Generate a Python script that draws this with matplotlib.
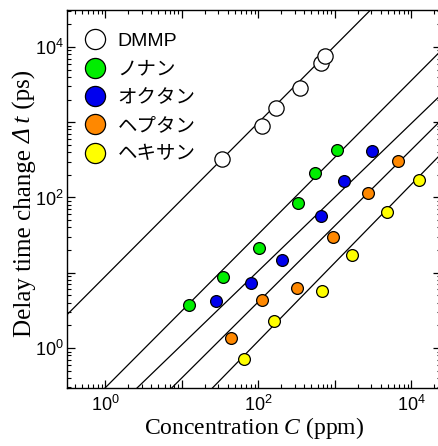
import numpy as np
import matplotlib
matplotlib.use("Agg")
import matplotlib.pyplot as plt
from matplotlib.ticker import LogLocator, FuncFormatter, NullFormatter

plt.rcParams['mathtext.fontset'] = 'custom'
plt.rcParams['mathtext.rm'] = 'Liberation Serif'
plt.rcParams['mathtext.it'] = 'Liberation Serif:italic'
plt.rcParams['mathtext.default'] = 'regular'

# ---- data ----
series_names = ["DMMP", "ノナン", "オクタン", "ヘプタン", "ヘキサン"]
series_colors = ["white", "#00ee00", "#0000ee", "#ff8800", "#ffff00"]

dmmp_c = [33.5, 112, 174, 355, 660, 740]
dmmp_dt = [321, 887, 1550, 2880, 6170, 7590]

nonane_c = [12.5, 35.2, 104, 330, 556, 1070]
nonane_dt = [3.72, 8.85, 21.5, 83.6, 211, 422]

octane_c = [28.2, 80.9, 208, 667, 1318, 3119]
octane_dt = [4.21, 7.36, 14.8, 57.1, 167, 413]

heptane_c = [44.0, 112, 327, 966, 2767, 6823]
heptane_dt = [1.36, 4.34, 6.27, 30.1, 116, 301]

hexane_c = [66.2, 162, 687, 1694, 4853, 12735]
hexane_dt = [0.72, 2.31, 5.71, 17.2, 64.6, 170]

# fit lines: log10(dt) = a + b*log10(C)
fit_a = [0.95, -0.53, -0.94, -1.41, -1.99]
fit_b = [1.02, 1.02, 0.98, 1.01, 1.04]

all_c = [dmmp_c, nonane_c, octane_c, heptane_c, hexane_c]
all_dt = [dmmp_dt, nonane_dt, octane_dt, heptane_dt, hexane_dt]

W, H = 438, 446
fig = plt.figure(figsize=(W/100, H/100), dpi=100)
ax = fig.add_axes([67/W, 1-388/H, 374/W, 378/H])
ax.set_xscale('log')
ax.set_yscale('log')
xlim = (10**-0.497, 10**4.392)
ylim = (10**-0.53, 10**4.49)

xx = np.logspace(np.log10(xlim[0]), np.log10(xlim[1]), 200)
for a, b in zip(fit_a, fit_b):
    ax.plot(xx, 10**(a + b*np.log10(xx)), color='black', lw=0.9, zorder=2)

for i, (c, dt) in enumerate(zip(all_c, all_dt)):
    ms = 11 if i == 0 else 8.5
    ax.plot(c, dt, 'o', ms=ms, mfc=series_colors[i], mec='black', mew=0.9,
            zorder=3, label=series_names[i])

ax.set_xlim(*xlim)
ax.set_ylim(*ylim)

def fmt(v, pos):
    n = int(round(np.log10(v)))
    if n % 2 == 0:
        return r'$\mathregular{10^{%d}}$' % n
    return ''

for axis in (ax.xaxis, ax.yaxis):
    axis.set_major_locator(LogLocator(base=10, numticks=20))
    axis.set_minor_locator(LogLocator(base=10, subs=np.arange(2, 10), numticks=20))
    axis.set_major_formatter(FuncFormatter(fmt))
    axis.set_minor_formatter(NullFormatter())

ax.tick_params(which='both', direction='in', top=True, right=True)
ax.tick_params(which='major', length=6, width=0.9, labelsize=13, pad=5)
ax.tick_params(axis='y', which='major', pad=2.5)
ax.tick_params(which='minor', length=3, width=0.8)
for lab in ax.get_xticklabels() + ax.get_yticklabels():
    lab.set_family('Liberation Sans')
for s in ax.spines.values():
    s.set_linewidth(1.0)

ax.set_xlabel(r'Concentration $\mathit{C}$ (ppm)', family='Liberation Serif', fontsize=17, labelpad=0)

# y label built from pieces so that the Greek Delta can be italic
ylab_parts = [("Delay time change ", 'normal'), ("Δ t", 'italic'), (" (ps)", 'normal')]
ylab_size = 18
renderer = fig.canvas.get_renderer()
lengths = []
for s, st in ylab_parts:
    t = fig.text(0, 0, s, family='Liberation Serif', style=st, fontsize=ylab_size)
    lengths.append(t.get_window_extent(renderer).width)
    t.remove()
total = sum(lengths)
ycenter = 203.5
x_base = 31.0
y0 = H - ycenter - total/2
for (s, st), L in zip(ylab_parts, lengths):
    fig.text(x_base/W, y0/H, s, family='Liberation Serif', style=st, fontsize=ylab_size,
             rotation=90, rotation_mode='anchor', ha='left', va='baseline')
    y0 += L

leg = ax.legend(loc='upper left', bbox_to_anchor=(0.023, 0.961), frameon=False,
                handletextpad=0.55, labelspacing=0.55, borderaxespad=0.0,
                handlelength=1.2,
                prop={'family': ['Liberation Sans', 'Noto Sans CJK JP'], 'size': 14})
for h in leg.legend_handles:
    h.set_markersize(14.5)

fig.savefig('out.png', dpi=100)
